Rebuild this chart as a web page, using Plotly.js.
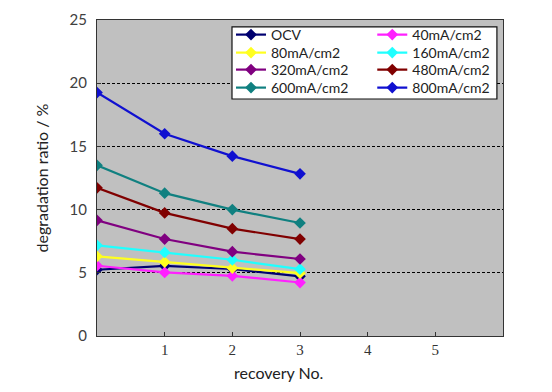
<!DOCTYPE html>
<html><head><meta charset="utf-8">
<script src="https://cdn.plot.ly/plotly-3.0.1.min.js"></script>
<style>html,body{margin:0;padding:0;background:#fff;}#chart{width:552px;height:392px;}</style>
</head><body><div id="chart"></div>
<script>
const recovery = [0, 1, 2, 3];
const seriesNames = ["OCV", "40mA/cm2", "80mA/cm2", "160mA/cm2", "320mA/cm2", "480mA/cm2", "600mA/cm2", "800mA/cm2"];
const ocv   = [5.24, 5.55, 5.3, 4.72];
const i40   = [5.56, 5.03, 4.76, 4.23];
const i80   = [6.3, 5.85, 5.37, 4.97];
const i160  = [7.17, 6.61, 6.03, 5.29];
const i320  = [9.15, 7.67, 6.67, 6.09];
const i480  = [11.72, 9.74, 8.49, 7.67];
const i600  = [13.5, 11.3, 10.0, 8.94];
const i800  = [19.26, 16.0, 14.23, 12.83];
const xTicks = [1, 2, 3, 4, 5];
const yTicks = [0, 5, 10, 15, 20, 25];

const values = [ocv, i40, i80, i160, i320, i480, i600, i800];
const colors = ["#000070", "#ff20ff", "#ffff20", "#20ffff", "#800080", "#800000", "#108080", "#1010d0"];

const traces = seriesNames.map((n, i) => ({
  x: recovery, y: values[i], name: n, type: "scatter", mode: "lines+markers",
  line: {color: colors[i], width: 2.2},
  marker: {symbol: "diamond", size: 9, color: colors[i]},
  legend: i === 0 ? "legend" : "legend" + (i + 1)
}));

const legendCommon = {
  bgcolor: "rgba(0,0,0,0)", borderwidth: 0,
  font: {family: "Lato, 'Open Sans', sans-serif", size: 14, color: "#222"},
  tracegroupgap: 0, xanchor: "left", yanchor: "top"
};
// legend-top positions in px, converted to plot-area fractions
const rowTopPx = [19, 37, 54, 72];
const colX = [0.33, 0.678];
const plotTop = 20, plotH = 316;

const layout = {
  width: 552, height: 392,
  margin: {l: 97, r: 49, t: plotTop, b: 56},
  paper_bgcolor: "#ffffff",
  plot_bgcolor: "#c0c0c0",
  showlegend: true,
  xaxis: {
    range: [0, 6], tickvals: xTicks, ticktext: xTicks.map(String),
    showgrid: false, zeroline: false,
    showline: true, linecolor: "#333", linewidth: 1, mirror: true,
    ticks: "inside", ticklen: 4, tickcolor: "#333",
    tickfont: {family: "'Liberation Serif', 'Times New Roman', serif", size: 15, color: "#333"}
  },
  yaxis: {
    range: [0, 25], tickvals: yTicks,
    showgrid: true, gridcolor: "#000", gridwidth: 1, griddash: "3px,2px",
    zeroline: false,
    showline: true, linecolor: "#333", linewidth: 1, mirror: true,
    ticks: "inside", ticklen: 4, tickcolor: "#333",
    ticklabelstandoff: 6,
    tickfont: {family: "Lato, 'Open Sans', sans-serif", size: 15, color: "#404040"},
    title: {text: "degradation ratio / %", standoff: 16,
            font: {family: "Lato, 'Open Sans', sans-serif", size: 16, color: "#222"}}
  },
  shapes: [{
    type: "rect", xref: "paper", yref: "paper", layer: "above",
    x0: 0.3325, x1: 0.985, y0: 0.75, y1: 0.978,
    fillcolor: "#ffffff", line: {color: "#111", width: 1.2}
  }],
  annotations: [{
    text: "recovery No.", xref: "paper", yref: "paper",
    x: 0.446, y: -0.117, xanchor: "center", yanchor: "middle", showarrow: false,
    font: {family: "Lato, 'Open Sans', sans-serif", size: 16, color: "#222"}
  }]
};

seriesNames.forEach((n, i) => {
  const key = i === 0 ? "legend" : "legend" + (i + 1);
  const col = i % 2, row = Math.floor(i / 2);
  layout[key] = Object.assign({}, legendCommon, {
    x: colX[col], y: (plotTop + plotH - rowTopPx[row]) / plotH
  });
});

Plotly.newPlot("chart", traces, layout, {displayModeBar: false, staticPlot: true});
</script></body></html>
